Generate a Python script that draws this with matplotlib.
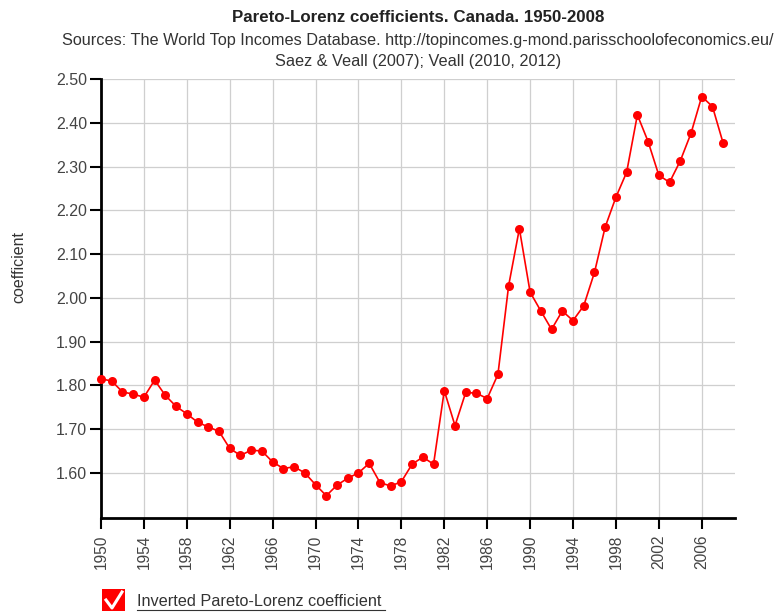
import matplotlib.pyplot as plt
from matplotlib.patches import Rectangle
from matplotlib.lines import Line2D

plt.rcParams['font.family'] = ['Liberation Sans', 'DejaVu Sans']

years = list(range(1950, 2009))
coefficient = [
    1.815, 1.810, 1.785, 1.780, 1.773, 1.812, 1.777, 1.752, 1.735, 1.716,
    1.705, 1.695, 1.656, 1.640, 1.652, 1.650, 1.625, 1.610, 1.614, 1.600,
    1.573, 1.548, 1.572, 1.588, 1.600, 1.622, 1.578, 1.570, 1.580, 1.620,
    1.636, 1.620, 1.788, 1.708, 1.784, 1.782, 1.770, 1.825, 2.028, 2.158,
    2.013, 1.970, 1.928, 1.970, 1.948, 1.982, 2.058, 2.162, 2.230, 2.287,
    2.418, 2.357, 2.280, 2.264, 2.313, 2.376, 2.460, 2.437, 2.353,
]
x_ticks = list(range(1950, 2009, 4))
y_ticks = [1.60, 1.70, 1.80, 1.90, 2.00, 2.10, 2.20, 2.30, 2.40, 2.50]

title = "Pareto-Lorenz coefficients. Canada. 1950-2008"
subtitle = ("Sources: The World Top Incomes Database. http://topincomes.g-mond.parisschoolofeconomics.eu/\n"
            "Saez & Veall (2007); Veall (2010, 2012)")
series_name = "Inverted Pareto-Lorenz coefficient"

W, H = 778, 614
fig = plt.figure(figsize=(W / 100, H / 100), dpi=100)
ax = fig.add_axes([101 / W, 1 - 518 / H, 634 / W, 439 / H])

ax.plot(years, coefficient, color='#ff0000', lw=1.2, marker='o', ms=6.5,
        markeredgewidth=0, zorder=3, clip_on=False)

ax.set_xlim(1950, 2009.1)
ax.set_ylim(1.497, 2.50)
ax.set_xticks(x_ticks)
ax.set_yticks(y_ticks)
ax.set_yticklabels([f"{v:.2f}" for v in y_ticks])
ax.tick_params(axis='x', rotation=90, length=8, width=1.5, labelsize=11.2,
               labelcolor='#444444', pad=4)
ax.tick_params(axis='y', length=8, width=1.5, labelsize=11.5,
               labelcolor='#444444', pad=2)
ax.grid(True, color='#cfcfcf', lw=0.9)
ax.set_axisbelow(True)

for side in ('top', 'right'):
    ax.spines[side].set_visible(False)
for side in ('left', 'bottom'):
    ax.spines[side].set_linewidth(2)
    ax.spines[side].set_color('black')

fig.text(19 / W, 1 - 267 / H, "coefficient", rotation=90, ha='center', va='center',
         fontsize=11.5, color='#333333')

fig.text(418 / W, 1 - 17 / H, title, ha='center', va='center',
         fontsize=12.2, fontweight='bold', color='#222222')
fig.text(418 / W, 1 - 51 / H, subtitle, ha='center', va='center',
         fontsize=11.7, color='#333333', linespacing=1.45)

# legend: checkbox plus underlined label
fig.patches.append(Rectangle((102 / W, 1 - 611 / H), 23 / W, 22 / H,
                             transform=fig.transFigure, facecolor='#ff0000',
                             edgecolor='none'))
fig.lines.append(Line2D([106 / W, 112 / W, 122 / W],
                        [1 - 600 / H, 1 - 608 / H, 1 - 592 / H],
                        transform=fig.transFigure, color='white', lw=2.2))
fig.text(137 / W, 1 - 601 / H, series_name, ha='left', va='center',
         fontsize=11.7, color='#333333')
fig.lines.append(Line2D([137 / W, 385 / W], [1 - 610 / H, 1 - 610 / H],
                        transform=fig.transFigure, color='#333333', lw=0.8))

fig.savefig("out.png", dpi=100)
